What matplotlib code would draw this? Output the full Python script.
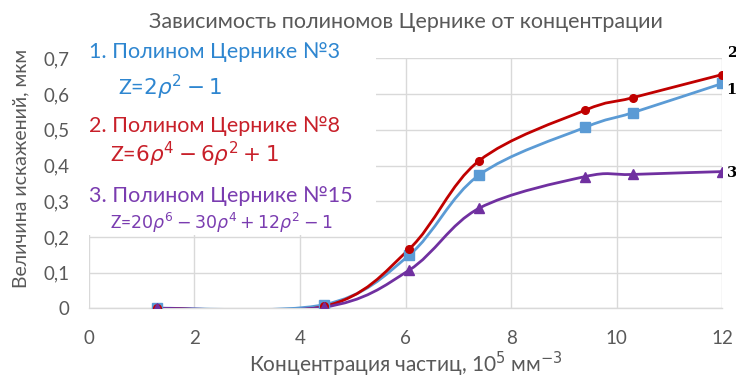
import numpy as np
import matplotlib
matplotlib.use("Agg")
import matplotlib.pyplot as plt
from matplotlib.path import Path
from matplotlib.patches import PathPatch, Rectangle

plt.rcParams["font.family"] = ["Lato", "DejaVu Sans"]
plt.rcParams["mathtext.fontset"] = "dejavusans"

# концентрация частиц, 10^5 мм^-3
conc = [1.3, 4.45, 6.07, 7.39, 9.4, 10.3, 12.0]

# величина искажений, мкм
z3 = [0.0, 0.01, 0.149, 0.373, 0.507, 0.548, 0.63]
z8 = [0.0, 0.005, 0.166, 0.413, 0.555, 0.59, 0.655]
z15 = [0.0, 0.003, 0.107, 0.28, 0.369, 0.375, 0.383]

series = [
    ("1", z3, "#5B9BD5", "s", 7.5),
    ("2", z8, "#C00000", "o", 5.5),
    ("3", z15, "#7030A0", "^", 7.5),
]

yticks = [0, 0.1, 0.2, 0.3, 0.4, 0.5, 0.6, 0.7]
ytick_labels = ["0", "0,1", "0,2", "0,3", "0,4", "0,5", "0,6", "0,7"]
xticks = [0, 2, 4, 6, 8, 10, 12]

GREY = "#595959"


def smooth_path(x, y):
    # сглаженная линия как в Excel: кривые Безье, касательные по соседним точкам
    pts = np.column_stack([x, y]).astype(float)
    n = len(pts)
    verts = [pts[0]]
    codes = [Path.MOVETO]
    for i in range(n - 1):
        p0 = pts[i - 1] if i > 0 else pts[i]
        p1 = pts[i]
        p2 = pts[i + 1]
        p3 = pts[i + 2] if i + 2 < n else pts[i + 1]
        c1 = p1 + (p2 - p0) / 6.0
        c2 = p2 - (p3 - p1) / 6.0
        verts += [c1, c2, p2]
        codes += [Path.CURVE4] * 3
    return Path(verts, codes)


fig = plt.figure(figsize=(7.36, 3.82), dpi=100)
ax = fig.add_axes([0.1205, 0.193, 0.861, 0.654])

ax.set_xlim(0, 12)
ax.set_ylim(0, 0.7)
ax.set_xticks(xticks)
ax.set_yticks(yticks)
ax.set_yticklabels(ytick_labels)
ax.grid(True, color="#D9D9D9", lw=1.0, zorder=0)
ax.set_axisbelow(True)
for s in ["top", "right", "left"]:
    ax.spines[s].set_visible(False)
ax.spines["bottom"].set_color("#D9D9D9")
ax.spines["bottom"].set_linewidth(1.0)
ax.tick_params(length=0, colors=GREY, labelsize=13.5)
ax.tick_params(axis="x", pad=16)
ax.tick_params(axis="y", pad=14)

# белая подложка под подписями полиномов
ax.add_patch(Rectangle((0, 0.205), 5.44, 0.6, transform=ax.transData,
                       facecolor="white", edgecolor="none", zorder=1,
                       clip_on=False))

for name, vals, color, marker, ms in series:
    ax.add_patch(PathPatch(smooth_path(conc, vals), facecolor="none",
                           edgecolor=color, lw=2.0, zorder=3,
                           capstyle="round", joinstyle="round"))
    ax.plot(conc, vals, ls="none", marker=marker, ms=ms, color=color, zorder=4)

label_y = {"1": 0.611, "2": 0.715, "3": 0.379}
for name, vals, color, marker, ms in series:
    ax.text(12.08, label_y[name], name, ha="left", va="center",
            fontsize=10.5, fontweight="bold", family="DejaVu Serif",
            color="black", clip_on=False)

ax.set_title("Зависимость полиномов Цернике от концентрации",
             fontsize=15.5, color=GREY, pad=22)
ax.set_xlabel("Концентрация частиц, 10$^5$ мм$^{-3}$", fontsize=15,
              color=GREY, labelpad=2)
ax.set_ylabel("Величина искажений, мкм", fontsize=14, color=GREY)
ax.yaxis.set_label_coords(-0.094, 0.56)

fs_name = 15.5
ax.text(0.0, 0.718, "1. Полином Цернике №3", fontsize=fs_name,
        color="#2E86D0", va="center", zorder=5, clip_on=False)
ax.text(0.55, 0.62, "Z=$2\\rho^2 - 1$", fontsize=fs_name,
        color="#2E86D0", va="center", zorder=5)
ax.text(0.0, 0.51, "2. Полином Цернике №8", fontsize=fs_name,
        color="#C8202A", va="center", zorder=5)
ax.text(0.4, 0.43, "Z=$6\\rho^4 - 6\\rho^2 + 1$", fontsize=fs_name,
        color="#C8202A", va="center", zorder=5)
ax.text(0.0, 0.315, "3. Полином Цернике №15", fontsize=fs_name,
        color="#7A3CB0", va="center", zorder=5)
ax.text(0.4, 0.24, "Z=$20\\rho^6 - 30\\rho^4 + 12\\rho^2 - 1$", fontsize=12.5,
        color="#7A3CB0", va="center", zorder=5)

fig.savefig("out.png", dpi=100)
